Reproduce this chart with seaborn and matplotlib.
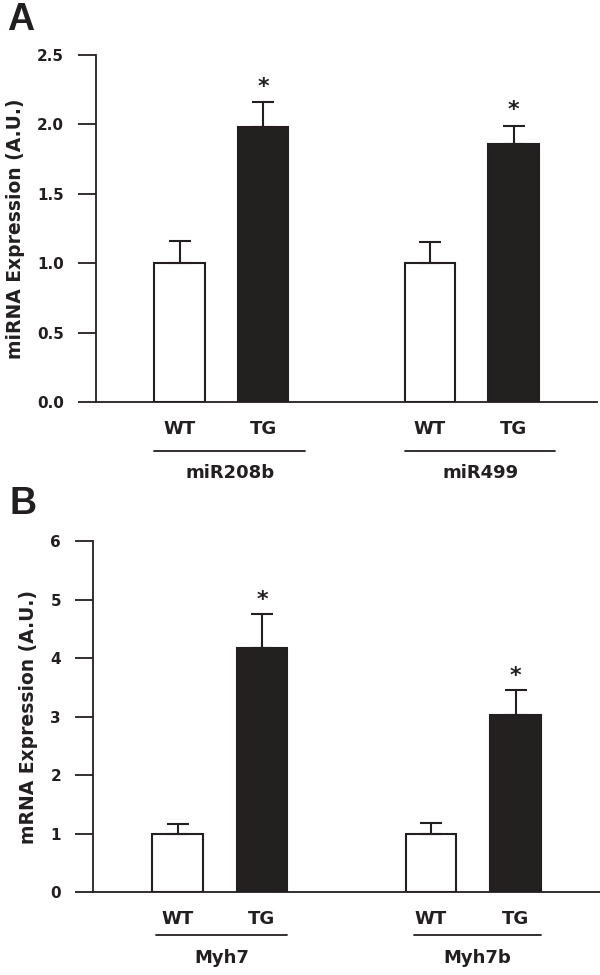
import matplotlib
matplotlib.use("Agg")
import matplotlib.pyplot as plt
import matplotlib.transforms as mtransforms
import seaborn as sns
import pandas as pd
import numpy as np

# ---- data ----
conditions = ["WT", "TG"]
mirna_genes = ["miR208b", "miR499"]
mirna_mean = [[1.00, 1.98], [1.00, 1.86]]
mirna_err = [[0.16, 0.18], [0.15, 0.13]]
mirna_sig = [[False, True], [False, True]]
mrna_genes = ["Myh7", "Myh7b"]
mrna_mean = [[1.00, 4.17], [1.00, 3.03]]
mrna_err = [[0.17, 0.58], [0.18, 0.42]]
mrna_sig = [[False, True], [False, True]]
mirna_ticks = [0.0, 0.5, 1.0, 1.5, 2.0, 2.5]
mirna_ticklabels = ["0.0", "0.5", "1.0", "1.5", "2.0", "2.5"]
mrna_ticks = [0, 1, 2, 3, 4, 5, 6]
mrna_ticklabels = ["0", "1", "2", "3", "4", "5", "6"]

sns.set_theme(style="ticks")
plt.rcParams["font.family"] = ["DejaVu Sans"]
INK = "#231f20"

fig = plt.figure(figsize=(6.0, 9.75), dpi=100)
axA = fig.add_axes([0.160, 0.5877, 0.835, 0.3559])
axB = fig.add_axes([0.155, 0.0851, 0.845, 0.3600])


def build_df(genes, means, errs, sigs):
    rows = []
    for gi, g in enumerate(genes):
        for ci, c in enumerate(conditions):
            rows.append(dict(gene=g, cond=c, pos=gi * 3 + ci,
                             mean=means[gi][ci], err=errs[gi][ci], sig=sigs[gi][ci]))
    return pd.DataFrame(rows)


def draw(ax, df, ylabel, ticks, ticklabels, ylim, brackets, br_y, lab_y, star_off):
    sns.barplot(data=df, x="pos", y="mean", hue="cond", native_scale=True,
                palette={"WT": "white", "TG": INK}, edgecolor=INK, linewidth=1.5,
                width=0.6, dodge=False, legend=False, errorbar=None, ax=ax)
    for p in ax.patches:
        p.set_width(0.6)
    for _, r in df.iterrows():
        ax.errorbar(r["pos"], r["mean"], yerr=[[0], [r["err"]]], fmt="none",
                    ecolor=INK, elinewidth=1.5, capsize=8, capthick=1.5, zorder=1)
        if r["sig"]:
            ax.annotate("*", xy=(r["pos"], r["mean"] + r["err"]), xytext=(0, star_off),
                        textcoords="offset points", ha="center", va="bottom",
                        fontsize=16, fontweight="bold", color=INK)
    ax.set_xlim(-1, 5)
    ax.set_ylim(*ylim)
    ax.set_yticks(ticks)
    ax.set_yticklabels(ticklabels)
    xt = df["pos"].tolist()
    ax.set_xticks(xt)
    ax.set_xticklabels(df["cond"].tolist())
    ax.tick_params(axis="x", length=0, pad=13, labelsize=13)
    ax.tick_params(axis="y", length=13, width=1.3, pad=10, labelsize=11, color=INK)
    for lab in ax.get_xticklabels() + ax.get_yticklabels():
        lab.set_fontweight("bold")
        lab.set_color(INK)
    ax.set_xlabel("")
    ax.set_ylabel(ylabel, fontsize=13.5, fontweight="bold", color=INK, labelpad=9)
    sns.despine(ax=ax)
    for s in ["left", "bottom"]:
        ax.spines[s].set_linewidth(1.3)
        ax.spines[s].set_color(INK)
    trans = mtransforms.blended_transform_factory(ax.transData, ax.transAxes)
    for (x0, x1), g in zip(brackets, df["gene"].unique()):
        ax.plot([x0, x1], [br_y, br_y], color=INK, lw=1.3, transform=trans, clip_on=False)
        ax.text((x0 + x1) / 2, lab_y, g, transform=trans, ha="center", va="center",
                fontsize=13, fontweight="bold", color=INK)


dfA = build_df(mirna_genes, mirna_mean, mirna_err, mirna_sig)
dfB = build_df(mrna_genes, mrna_mean, mrna_err, mrna_sig)

draw(axA, dfA, "miRNA Expression (A.U.)", mirna_ticks, mirna_ticklabels, (0, 2.5),
     [(-0.3, 1.5), (2.7, 4.5)], -0.141, -0.205, 4)
draw(axB, dfB, "mRNA Expression (A.U.)", mrna_ticks, mrna_ticklabels, (0, 6),
     [(-0.25, 1.3), (2.8, 4.3)], -0.1225, -0.188, 3)

fig.text(0.012, 0.9795, "A", fontsize=27, fontweight="bold", color=INK,
         ha="left", va="center", family=["Liberation Sans", "DejaVu Sans"])
fig.text(0.015, 0.483, "B", fontsize=27, fontweight="bold", color=INK,
         ha="left", va="center", family=["Liberation Sans", "DejaVu Sans"])

fig.savefig("out.png", dpi=100, facecolor="white")
